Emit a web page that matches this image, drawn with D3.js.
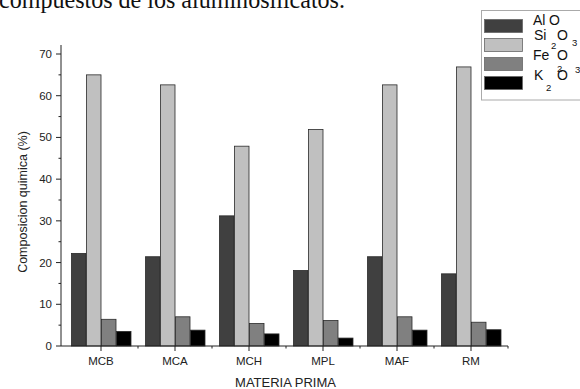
<!DOCTYPE html>
<html>
<head>
<meta charset="utf-8">
<script src="https://cdn.jsdelivr.net/npm/d3@7"></script>
<style>
  html, body { margin: 0; padding: 0; background: #fff; }
  svg { display: block; }
</style>
</head>
<body>
<svg id="chart" width="580" height="389"></svg>
<script>
// Raw materials and oxide composition (%)
const categories = ["MCB", "MCA", "MCH", "MPL", "MAF", "RM"];
const seriesNames = ["Al2O3", "SiO2", "Fe2O3", "K2O"];
const al2o3 = [22.2, 21.4, 31.2, 18.1, 21.4, 17.3];
const sio2  = [65.0, 62.6, 47.9, 51.9, 62.6, 66.9];
const fe2o3 = [6.4, 7.0, 5.4, 6.1, 7.0, 5.7];
const k2o   = [3.5, 3.8, 2.9, 1.9, 3.8, 3.9];
const yTicks = [0, 10, 20, 30, 40, 50, 60, 70];
const xTitle = "MATERIA PRIMA";
const yTitle = "Composicion quimica (%)";

const seriesValues = [al2o3, sio2, fe2o3, k2o];
const colors = ["#404040", "#c0c0c0", "#808080", "#000000"];

const svg = d3.select("#chart");
const font = "Liberation Sans, Arial, sans-serif";

// Caption line running off the top edge
svg.append("text")
  .attr("x", -1).attr("y", 8)
  .attr("font-family", "Liberation Serif, Times New Roman, serif")
  .attr("font-size", 25)
  .attr("textLength", 346)
  .attr("lengthAdjust", "spacingAndGlyphs")
  .attr("fill", "#111")
  .text("compuestos de los aluminosilicatos.");

const plotLeft = 61, plotRight = 508;
const x = d3.scaleBand()
  .domain(categories)
  .range([64, 508])
  .paddingInner(14 / 74)
  .paddingOuter(7 / 74);
const xInner = d3.scaleBand()
  .domain(d3.range(seriesNames.length))
  .range([0, x.bandwidth()]);
const y = d3.scaleLinear().domain([0, 70]).range([346, 54]);

// Bars
const groups = svg.append("g").selectAll("g")
  .data(categories)
  .join("g")
  .attr("transform", d => `translate(${x(d)},0)`);
groups.selectAll("rect")
  .data((c, i) => seriesValues.map((s, j) => ({ j, v: s[i] })))
  .join("rect")
  .attr("x", d => xInner(d.j) + 0.5)
  .attr("y", d => y(d.v))
  .attr("width", xInner.bandwidth() - 0.5)
  .attr("height", d => y(0) - y(d.v))
  .attr("fill", d => colors[d.j])
  .attr("stroke", "#2a2a2a")
  .attr("stroke-width", 0.8);

// Y axis with minor ticks
const yAxis = svg.append("g").attr("transform", `translate(${plotLeft},0)`);
yAxis.append("line")
  .attr("x1", 0).attr("x2", 0).attr("y1", 45).attr("y2", y(0))
  .attr("stroke", "#222").attr("stroke-width", 1);
yAxis.selectAll(".maj").data(yTicks).join("line")
  .attr("x1", -5).attr("x2", 0)
  .attr("y1", d => y(d)).attr("y2", d => y(d))
  .attr("stroke", "#222");
yAxis.selectAll(".min").data(yTicks.slice(0, -1).map(d => d + 5)).join("line")
  .attr("x1", -2.5).attr("x2", 0)
  .attr("y1", d => y(d)).attr("y2", d => y(d))
  .attr("stroke", "#222");
yAxis.selectAll("text").data(yTicks).join("text")
  .attr("x", -9).attr("y", d => y(d) + 4)
  .attr("text-anchor", "end")
  .attr("font-family", font).attr("font-size", 11.5)
  .attr("fill", "#222")
  .text(d => d);

// X axis
const xAxis = svg.append("g");
xAxis.append("line")
  .attr("x1", plotLeft).attr("x2", plotRight)
  .attr("y1", y(0)).attr("y2", y(0))
  .attr("stroke", "#222");
xAxis.selectAll(".maj").data(categories).join("line")
  .attr("x1", d => x(d) + x.bandwidth() / 2)
  .attr("x2", d => x(d) + x.bandwidth() / 2)
  .attr("y1", y(0)).attr("y2", y(0) + 5)
  .attr("stroke", "#222");
xAxis.selectAll(".min").data(categories).join("line")
  .attr("x1", d => x(d) + x.bandwidth() + x.step() * 7 / 74)
  .attr("x2", d => x(d) + x.bandwidth() + x.step() * 7 / 74)
  .attr("y1", y(0)).attr("y2", y(0) + 2.5)
  .attr("stroke", "#222");
xAxis.selectAll("text").data(categories).join("text")
  .attr("x", d => x(d) + x.bandwidth() / 2)
  .attr("y", 365)
  .attr("text-anchor", "middle")
  .attr("font-family", font).attr("font-size", 11.5)
  .attr("fill", "#222")
  .text(d => d);

// Axis titles
svg.append("text")
  .attr("x", (plotLeft + plotRight) / 2 + 1).attr("y", 387)
  .attr("text-anchor", "middle")
  .attr("font-family", font).attr("font-size", 13)
  .attr("fill", "#222")
  .text(xTitle);
svg.append("text")
  .attr("transform", "translate(27,202) rotate(-90)")
  .attr("text-anchor", "middle")
  .attr("font-family", font).attr("font-size", 12.5)
  .attr("fill", "#222")
  .text(yTitle);

// Legend
const legend = svg.append("g");
legend.append("rect")
  .attr("x", 481.5).attr("y", 10.5).attr("width", 110).attr("height", 89.5)
  .attr("fill", "#fff").attr("stroke", "#aaa").attr("stroke-width", 1);
legend.selectAll(".sw").data(seriesNames).join("rect")
  .attr("x", 484.5).attr("y", (d, i) => 19.5 + i * 19)
  .attr("width", 38).attr("height", 13)
  .attr("fill", (d, i) => colors[i])
  .attr("stroke", "#666").attr("stroke-width", 0.8);

// Legend labels with their displaced sub/superscript digits
const lg = [
  { t: "Al", x: 533, y: 25, s: 14 },
  { t: "O", x: 549, y: 25, s: 14 },
  { t: "Si", x: 534, y: 40, s: 14 },
  { t: "O", x: 557, y: 40, s: 14 },
  { t: "2", x: 551, y: 49, s: 9.5 },
  { t: "3", x: 572, y: 46, s: 9.5 },
  { t: "Fe", x: 533, y: 60, s: 14 },
  { t: "O", x: 557, y: 60, s: 14 },
  { t: "2", x: 557, y: 72, s: 9.5 },
  { t: "3", x: 575, y: 73, s: 9.5 },
  { t: "K", x: 534, y: 80, s: 14 },
  { t: "O", x: 557, y: 80, s: 14 },
  { t: "2", x: 546, y: 91, s: 9.5 }
];
legend.selectAll("text").data(lg).join("text")
  .attr("x", d => d.x).attr("y", d => d.y)
  .attr("font-family", font).attr("font-size", d => d.s)
  .attr("fill", "#111")
  .text(d => d.t);
</script>
</body>
</html>
